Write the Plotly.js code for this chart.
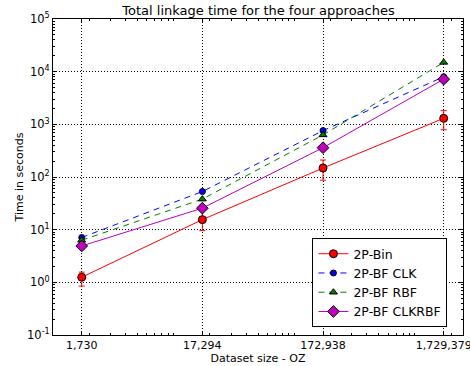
<!DOCTYPE html>
<html><head><meta charset="utf-8">
<script src="https://cdn.plot.ly/plotly-3.0.1.min.js"></script>
<style>body{margin:0;background:#fff}#c{width:470px;height:366px}</style>
</head><body><div id="c"></div>
<script>
const sizes = [1730, 17294, 172938, 1729379];
const sizeLabels = ["1,730", "17,294", "172,938", "1,729,379"];
const timeTicks = [0.1, 1, 10, 100, 1000, 10000, 100000];
const timeTickLabels = ["10<sup>-1</sup>", "10<sup>0</sup>", "10<sup>1</sup>", "10<sup>2</sup>", "10<sup>3</sup>", "10<sup>4</sup>", "10<sup>5</sup>"];
const binTime = [1.25, 15.5, 148, 1300];
const binErrPlus = [0.31, 10, 62, 520];
const binErrMinus = [0.4, 5.9, 61, 510];
const clkTime = [7.1, 53, 760, 8000];
const rbfTime = [6.3, 38, 630, 15000];
const clkrbfTime = [4.9, 25.6, 360, 7200];

const font = "DejaVu Sans, sans-serif";
const traces = [
  {x: sizes, y: binTime, name: "2P-Bin", mode: "lines+markers",
   line: {color: "#ff0000", width: 1},
   marker: {symbol: "circle", size: 8, color: "#ff0000", line: {color: "#000", width: 1}},
   error_y: {type: "data", symmetric: false, array: binErrPlus, arrayminus: binErrMinus, color: "#ff0000", thickness: 1, width: 3}},
  {x: sizes, y: clkTime, name: "2P-BF CLK", mode: "lines+markers",
   line: {color: "#0000ff", width: 1, dash: "6px,5px"},
   marker: {symbol: "circle", size: 6, color: "#0000ff", line: {color: "#000", width: 1}}},
  {x: sizes, y: rbfTime, name: "2P-BF RBF", mode: "lines+markers",
   line: {color: "#007f00", width: 1, dash: "6px,5px"},
   marker: {symbol: "triangle-up", size: 7, color: "#007f00", line: {color: "#000", width: 1}}},
  {x: sizes, y: clkrbfTime, name: "2P-BF CLKRBF", mode: "lines+markers",
   line: {color: "#bf00bf", width: 1},
   marker: {symbol: "diamond", size: 9, color: "#bf00bf", line: {color: "#000", width: 1}}}
];
const grid = {showgrid: true, gridcolor: "#000", griddash: "1px,2px", gridwidth: 1,
  showline: true, linecolor: "#000", linewidth: 1, mirror: "allticks",
  ticks: "inside", ticklen: 4, tickcolor: "#000", zeroline: false,
  minor: {ticks: "inside", ticklen: 2, tickcolor: "#000", dtick: "D1", showgrid: false}};
const layout = {
  width: 470, height: 366,
  margin: {l: 53, r: 7, t: 19, b: 31},
  paper_bgcolor: "#fff", plot_bgcolor: "#fff",
  font: {family: font, size: 11, color: "#000"},
  title: {text: "Total linkage time for the four approaches", font: {family: font, size: 13, color: "#000"}, x: 0.55, xanchor: "center", y: 0.985, yanchor: "top"},
  showlegend: true,
  legend: {x: 0.962, xanchor: "right", y: 0.025, yanchor: "bottom", bgcolor: "#fff", bordercolor: "#000", borderwidth: 1,
           font: {family: font, size: 12.5}, tracegroupgap: 0},
  xaxis: Object.assign({}, grid, {type: "log", range: [Math.log10(1000), Math.log10(2.5e6)], tickmode: "array", tickvals: sizes, ticktext: sizeLabels,
          ticklabeloverflow: "allow",
          title: {text: "Dataset size - OZ", font: {family: font, size: 11}, standoff: 2}}),
  yaxis: Object.assign({}, grid, {type: "log", range: [-1, 5], tickmode: "array", tickvals: timeTicks, ticktext: timeTickLabels,
          tickfont: {family: font, size: 11.5},
          title: {text: "Time in seconds", font: {family: font, size: 11}, standoff: 1}})
};
Plotly.newPlot("c", traces, layout, {displayModeBar: false, staticPlot: true});
</script></body></html>
